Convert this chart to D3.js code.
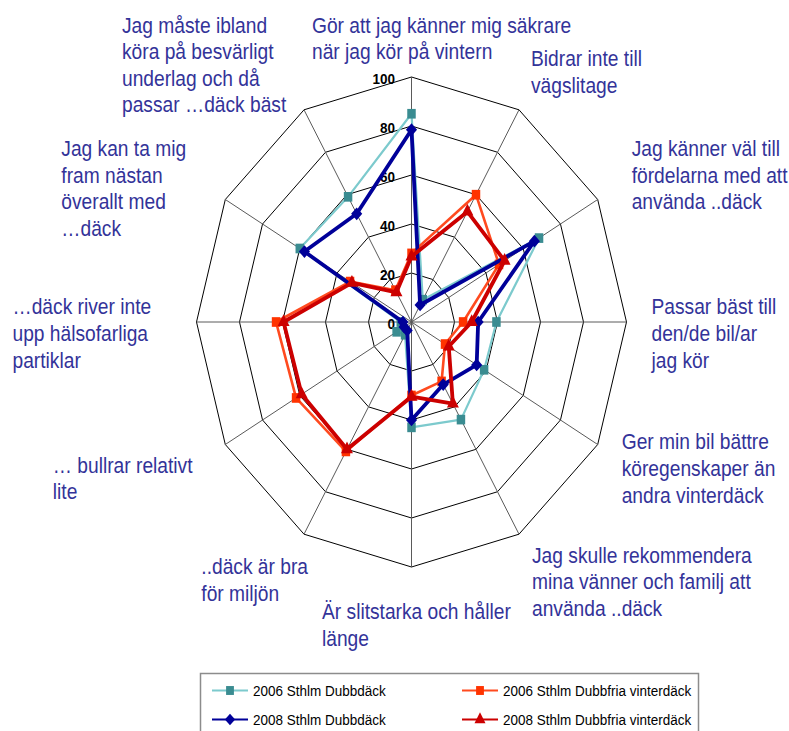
<!DOCTYPE html>
<html>
<head>
<meta charset="utf-8">
<script src="https://cdn.jsdelivr.net/npm/d3@7"></script>
<style>
  html, body { margin: 0; padding: 0; background: #fff; }
  svg { display: block; font-family: "Liberation Sans", Arial, sans-serif; }
</style>
</head>
<body>
<svg id="chart" width="789" height="731"></svg>
<script>
// Axis captions (one entry per spoke, clockwise from the top), split into lines
const axisLabels = [
  ["Gör att jag känner mig säkrare", "när jag kör på vintern"],
  ["Bidrar inte till", "vägslitage"],
  ["Jag känner väl till", "fördelarna med att", "använda ..däck"],
  ["Passar bäst till", "den/de bil/ar", "jag kör"],
  ["Ger min bil bättre", "köregenskaper än", "andra vinterdäck"],
  ["Jag skulle rekommendera", "mina vänner och familj att", "använda ..däck"],
  ["Är slitstarka och håller", "länge"],
  ["..däck är bra", "för miljön"],
  ["… bullrar relativt", "lite"],
  ["…däck river inte", "upp hälsofarliga", "partiklar"],
  ["Jag kan ta mig", "fram nästan", "överallt med", "…däck"],
  ["Jag måste ibland", "köra på besvärligt", "underlag och då", "passar …däck bäst"]
];

const seriesNames = [
  "2006 Sthlm Dubbdäck",
  "2006 Sthlm Dubbfria vinterdäck",
  "2008 Sthlm Dubbdäck",
  "2008 Sthlm Dubbfria vinterdäck"
];

const dubb2006  = [85, 10.5, 68.5, 39.5, 39, 46, 43, 6, 8, 5, 60, 59];
const fria2006  = [28, 60, 47, 24, 18, 28, 30, 61, 62, 63, 33, 15];
const dubb2008  = [78.5, 8, 66, 31, 35, 29.5, 40, 4, 4, 4, 57.5, 51];
const fria2008  = [26.7, 52, 50, 28, 20, 38.5, 30.5, 60, 59, 59.5, 32, 14];

const tickValues = [0, 20, 40, 60, 80, 100];

// ---- layout ----
const svg = d3.select("#chart");
const cx = 411.5, cy = 322;
const rx = 215, ry = 245;          // the plot is drawn slightly taller than wide
const stretch = ry / rx;
const n = axisLabels.length;

const rScale = d3.scaleLinear().domain([0, 100]).range([0, 1]);
const angle = d3.scaleLinear().domain([0, n]).range([0, 2 * Math.PI]);

function pt(i, v) {
  const a = angle(i), r = rScale(v);
  return [cx + rx * r * Math.sin(a), cy - ry * r * Math.cos(a)];
}

// caption block offsets (left edge, first-line centre) from each spoke's outer end
const labelOffsets = [
  [-99.5, -52], [12, -51.5], [34, -51.2], [25, -15.3],
  [24, -2.8], [13, 20.8], [-89.5, 44.7], [-102.7, 32.5],
  [-172.5, 20.5], [-184, -15.3], [-164, -51.2], [-182, -84.8]
];

const lineClosed = d3.line().curve(d3.curveLinearClosed);

// ---- grid rings ----
const grid = svg.append("g");
tickValues.filter(t => t > 0).forEach(t => {
  grid.append("path")
    .attr("d", lineClosed(d3.range(n).map(i => pt(i, t))))
    .attr("fill", "none")
    .attr("stroke", "#000")
    .attr("stroke-width", 1);
});

// spokes
d3.range(n).forEach(i => {
  const [x, y] = pt(i, 100);
  grid.append("line")
    .attr("x1", cx).attr("y1", cy).attr("x2", x).attr("y2", y)
    .attr("stroke", "#5a5a5a").attr("stroke-width", 1);
});

// ---- value ticks along the top spoke ----
tickValues.forEach(t => {
  const [, y] = pt(0, t);
  svg.append("text")
    .attr("transform", `translate(${cx - 16.5},${y + 2}) scale(1,${stretch})`)
    .attr("dy", "0.35em")
    .attr("text-anchor", "end")
    .attr("font-size", 13.5)
    .attr("font-weight", "bold")
    .attr("fill", "#000")
    .text(t);
});

// ---- axis captions ----
const capColor = "#333399";
axisLabels.forEach((lines, i) => {
  const [ox, oy] = pt(i, 100);
  const [dx, dy] = labelOffsets[i];
  lines.forEach((ln, k) => {
    svg.append("text")
      .attr("transform", `translate(${ox + dx},${oy + dy + k * 26.6}) scale(1,${stretch})`)
      .attr("dy", "0.35em")
      .attr("font-size", 19.2)
      .attr("fill", capColor)
      .text(ln);
  });
});

// ---- series ----
const diamond = {
  draw(ctx, size) {
    const r = Math.sqrt(size / 2);
    ctx.moveTo(0, -r); ctx.lineTo(r, 0); ctx.lineTo(0, r); ctx.lineTo(-r, 0); ctx.closePath();
  }
};

const series = [
  { name: seriesNames[0], values: dubb2006, line: "#7ccacd", mark: "#3a8c91", width: 2.2, symbol: d3.symbolSquare, size: 72 },
  { name: seriesNames[1], values: fria2006, line: "#ff4a1f", mark: "#ff3300", width: 2.6, symbol: d3.symbolSquare, size: 72 },
  { name: seriesNames[2], values: dubb2008, line: "#000099", mark: "#000099", width: 3.8, symbol: diamond, size: 62 },
  { name: seriesNames[3], values: fria2008, line: "#cc0000", mark: "#cc0000", width: 3.8, symbol: d3.symbolTriangle, size: 62 }
];

series.forEach(s => {
  const pts = s.values.map((v, i) => pt(i, v));
  const g = svg.append("g");
  g.append("path")
    .attr("d", lineClosed(pts))
    .attr("fill", "none")
    .attr("stroke", s.line)
    .attr("stroke-width", s.width)
    .attr("stroke-linejoin", "round");
  g.selectAll("path.m").data(pts).join("path")
    .attr("class", "m")
    .attr("transform", d => `translate(${d[0]},${d[1]}) scale(1,${stretch})`)
    .attr("d", d3.symbol().type(s.symbol).size(s.size))
    .attr("fill", s.mark);
});

// ---- legend ----
const legend = svg.append("g");
legend.append("rect")
  .attr("x", 200.5).attr("y", 673.5).attr("width", 498).attr("height", 70)
  .attr("fill", "#fff").attr("stroke", "#8c8c8c").attr("stroke-width", 1.5);

const legendCols = [212, 462];
const legendRows = [690.5, 719.5];
series.forEach((s, i) => {
  const x0 = legendCols[i % 2], y0 = legendRows[Math.floor(i / 2)];
  legend.append("line")
    .attr("x1", x0).attr("x2", x0 + 36).attr("y1", y0).attr("y2", y0)
    .attr("stroke", s.line).attr("stroke-width", 2);
  legend.append("path")
    .attr("transform", `translate(${x0 + 18},${y0}) scale(1,${stretch})`)
    .attr("d", d3.symbol().type(s.symbol).size(s.size * 0.85))
    .attr("fill", s.mark);
  legend.append("text")
    .attr("transform", `translate(${x0 + 41},${y0}) scale(1,${stretch})`)
    .attr("dy", "0.35em")
    .attr("font-size", 13.5)
    .attr("fill", "#000")
    .text(s.name);
});
</script>
</body>
</html>
